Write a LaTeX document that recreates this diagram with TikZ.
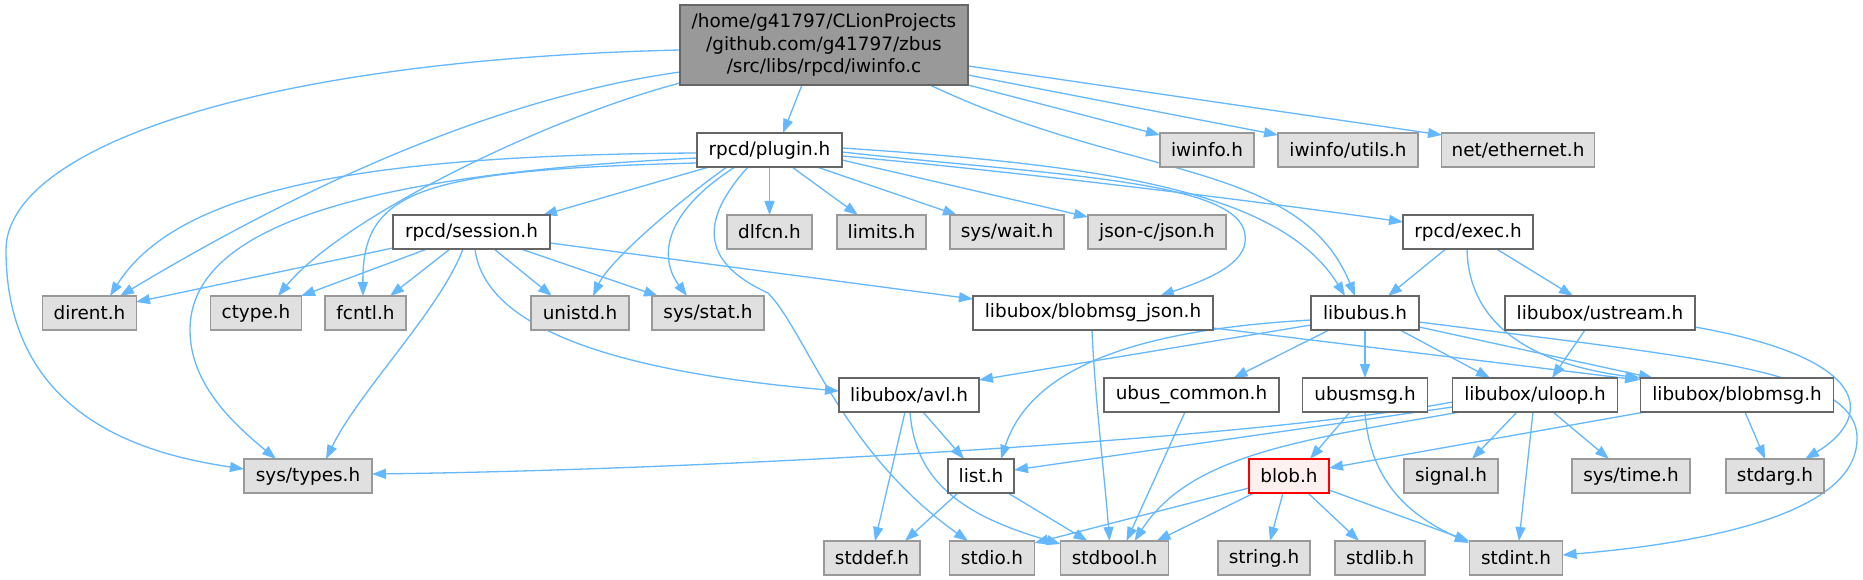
\documentclass[tikz,border=0pt]{standalone}
\usepackage{fontspec}
\setmainfont{DejaVu Sans}
\usetikzlibrary{arrows.meta,calc}
\definecolor{edgec}{HTML}{63B8FF}
\definecolor{gfill}{HTML}{E0E0E0}
\definecolor{gbord}{HTML}{999999}
\definecolor{dbord}{HTML}{666666}
\definecolor{mainfill}{HTML}{999999}
\definecolor{blobfill}{HTML}{FFF0F0}
\pgfdeclarelayer{bg}
\pgfsetlayers{bg,main}
\begin{document}
\begin{tikzpicture}[x=1pt,y=-1pt,
  base/.style={rectangle, minimum height=34pt, inner sep=0pt, line width=1.4pt,
    font=\fontsize{18.4}{22.7}\selectfont, anchor=center},
  sysbox/.style={base, draw=gbord, fill=gfill},
  ubox/.style={base, draw=dbord, fill=white},
  mainbox/.style={base, draw=dbord, fill=mainfill, minimum height=80pt, align=center},
  blobbox/.style={base, draw=red, fill=blobfill},
  edge/.style={draw=edgec, line width=1.3pt, -{Triangle[length=14pt,width=10pt]}}]
\useasboundingbox (0,0) rectangle (1863,580);
% row 0
\node[mainbox, minimum width=288pt] (main) at (824,45) {/home/g41797/CLionProjects\\/github.com/g41797/zbus\\/src/libs/rpcd/iwinfo.c};
% row 1
\node[ubox, minimum width=145pt] (plugin) at (769.5,150) {rpcd/plugin.h};
\node[sysbox, minimum width=94pt] (iwinfo) at (1207,150) {iwinfo.h};
\node[sysbox, minimum width=140pt] (iwutils) at (1348,150) {iwinfo/utils.h};
\node[sysbox, minimum width=153pt] (ether) at (1518,150) {net/ethernet.h};
% row 2
\node[ubox, minimum width=157pt] (session) at (471.5,232) {rpcd/session.h};
\node[sysbox, minimum width=85pt] (dlfcn) at (769.5,232) {dlfcn.h};
\node[sysbox, minimum width=89pt] (limits) at (881.5,232) {limits.h};
\node[sysbox, minimum width=114pt] (syswait) at (1007,232) {sys/wait.h};
\node[sysbox, minimum width=138pt] (json) at (1157,232) {json-c/json.h};
\node[ubox, minimum width=130pt] (exec) at (1468,232) {rpcd/exec.h};
% row 3
\node[sysbox, minimum width=94pt] (dirent) at (89.5,313) {dirent.h};
\node[sysbox, minimum width=91pt] (ctype) at (256,313) {ctype.h};
\node[sysbox, minimum width=81pt] (fcntl) at (365.5,313) {fcntl.h};
\node[sysbox, minimum width=98pt] (unistd) at (580,313) {unistd.h};
\node[sysbox, minimum width=112pt] (sysstat) at (708,313) {sys/stat.h};
\node[ubox, minimum width=240pt] (bjson) at (1093,313) {libubox/blobmsg\_json.h};
\node[ubox, minimum width=108pt] (libubus) at (1365,313) {libubus.h};
\node[ubox, minimum width=190pt] (ustream) at (1600,313) {libubox/ustream.h};
% row 4
\node[ubox, minimum width=140pt] (avl) at (909,395) {libubox/avl.h};
\node[ubox, minimum width=175pt] (ucommon) at (1191.5,395) {ubus\_common.h};
\node[ubox, minimum width=125pt] (ubusmsg) at (1365,395) {ubusmsg.h};
\node[ubox, minimum width=165pt] (uloop) at (1535,395) {libubox/uloop.h};
\node[ubox, minimum width=193pt] (blobmsg) at (1737,395) {libubox/blobmsg.h};
% row 5
\node[sysbox, minimum width=128pt] (systypes) at (308,476) {sys/types.h};
\node[ubox, minimum width=66pt] (list) at (981,476) {list.h};
\node[blobbox, minimum width=80pt] (blob) at (1289,476) {blob.h};
\node[sysbox, minimum width=94pt] (signal) at (1451,476) {signal.h};
\node[sysbox, minimum width=118pt] (systime) at (1631,476) {sys/time.h};
\node[sysbox, minimum width=98pt] (stdarg) at (1775,476) {stdarg.h};
% row 6
\node[sysbox, minimum width=96pt] (stddef) at (872,558) {stddef.h};
\node[sysbox, minimum width=85pt] (stdio) at (992,558) {stdio.h};
\node[sysbox, minimum width=108pt] (stdbool) at (1114.5,558) {stdbool.h};
\node[sysbox, minimum width=92pt] (string) at (1264,558) {string.h};
\node[sysbox, minimum width=90pt] (stdlib) at (1380,558) {stdlib.h};
\node[sysbox, minimum width=93pt] (stdint) at (1516,558) {stdint.h};

\begin{pgfonlayer}{bg}
\fill[white] (0,0) rectangle (1863,580);
% main
\draw[edge] ($(main)+(-144,5)$) .. controls (250,60) and (6,150) .. (6,250) .. controls (6,420) and (150,455) .. ($(systypes)+(-64,-7)$);
\draw[edge] ($(main)+(-144,27)$) .. controls (480,100) and (280,200) .. ($(dirent)+(30.5,-17)$);
\draw[edge] ($(main)+(-144,38)$) .. controls (540,120) and (340,220) .. ($(ctype)+(22,-17)$);
\draw[edge] ($(main)+(-22,40)$) -- ($(plugin)+(13.5,-17)$);
\draw[edge] ($(main)+(106,40)$) .. controls (1130,180) and (1300,160) .. ($(libubus)+(-10,-17)$);
\draw[edge] ($(main)+(144,40)$) -- ($(iwinfo)+(-47,-15)$);
\draw[edge] ($(main)+(144,30)$) -- ($(iwutils)+(-70,-15)$);
\draw[edge] ($(main)+(144,21)$) -- ($(ether)+(-76,-15)$);
% plugin
\draw[edge] ($(plugin)+(-60.5,17)$) -- ($(session)+(71.5,-17)$);
\draw[edge] ($(plugin)+(-72.5,3)$) .. controls (380,155) and (180,185) .. ($(dirent)+(20.5,-17)$);
\draw[edge] ($(plugin)+(-72.5,8)$) .. controls (350,175) and (190,230) .. (190,330) .. controls (190,385) and (235,425) .. ($(systypes)+(-32,-17)$);
\draw[edge] ($(plugin)+(-72.5,13)$) .. controls (420,170) and (362,190) .. ($(fcntl)+(-2.5,-17)$);
\draw[edge] ($(plugin)+(-42.5,17)$) .. controls (680,200) and (610,260) .. ($(unistd)+(13,-17)$);
\draw[edge] ($(plugin)+(-34.5,17)$) .. controls (660,215) and (660,260) .. ($(sysstat)+(-21,-17)$);
\draw[edge] ($(plugin)+(-21.5,17)$) .. controls (700,220) and (700,262) .. (768,293) .. controls (805,330) and (840,450) .. ($(stdio)+(-24,-17)$);
\draw[edge] ($(plugin)+(0,17)$) -- ($(dlfcn)+(0,-17)$);
\draw[edge] ($(plugin)+(22.5,17)$) -- ($(limits)+(-23.5,-17)$);
\draw[edge] ($(plugin)+(47.5,17)$) -- ($(syswait)+(-50,-17)$);
\draw[edge] ($(plugin)+(72.5,10)$) -- ($(json)+(-69,-15)$);
\draw[edge] ($(plugin)+(72.5,6)$) .. controls (1000,170) and (1250,200) .. ($(exec)+(-65,-10)$);
\draw[edge] ($(plugin)+(72.5,2)$) .. controls (1050,175) and (1240,180) .. (1245,235) .. controls (1250,265) and (1200,282) .. ($(bjson)+(67,-17)$);
\draw[edge] ($(plugin)+(72.5,-2)$) .. controls (1100,165) and (1280,190) .. ($(libubus)+(-20,-17)$);
% session
\draw[edge] ($(session)+(-78.5,16)$) -- ($(dirent)+(46.5,-11)$);
\draw[edge] ($(session)+(-44.5,17)$) -- ($(ctype)+(45,-17)$);
\draw[edge] ($(session)+(-21.5,17)$) -- ($(fcntl)+(24.5,-17)$);
\draw[edge] ($(session)+(-8.5,17)$) .. controls (440,310) and (360,390) .. ($(systypes)+(18,-17)$);
\draw[edge] ($(session)+(3.5,17)$) .. controls (485,330) and (620,372) .. ($(avl)+(-70,-4)$);
\draw[edge] ($(session)+(22.5,17)$) -- ($(unistd)+(-28,-17)$);
\draw[edge] ($(session)+(49.5,17)$) -- ($(sysstat)+(-50,-17)$);
\draw[edge] ($(session)+(78.5,11)$) -- ($(bjson)+(-120,-14)$);
% libubus
\draw[edge] ($(libubus)+(-54,12)$) -- ($(avl)+(70,-15)$);
\draw[edge] ($(libubus)+(-54,7)$) .. controls (1130,330) and (1030,370) .. ($(list)+(20,-17)$);
\draw[edge] ($(libubus)+(-36,17)$) -- ($(ucommon)+(42,-17)$);
\draw[edge] ($(libubus)+(0,17)$) -- ($(ubusmsg)+(0,-17)$);
\draw[edge] ($(libubus)+(35,17)$) -- ($(uloop)+(-45,-17)$);
\draw[edge] ($(libubus)+(54,14)$) -- ($(blobmsg)+(-84,-17)$);
\draw[edge] ($(libubus)+(54,9)$) .. controls (1700,358) and (1860,370) .. (1857,440) .. controls (1855,520) and (1680,545) .. ($(stdint)+(46.5,-3)$);
% uloop
\draw[edge] ($(uloop)+(-82.5,7)$) .. controls (1250,440) and (700,470) .. ($(systypes)+(64,-2)$);
\draw[edge] ($(uloop)+(-82.5,12)$) -- ($(list)+(33,-6)$);
\draw[edge] ($(uloop)+(-75,17)$) .. controls (1300,440) and (1190,455) .. ($(stdbool)+(20,-17)$);
\draw[edge] ($(uloop)+(-18,17)$) -- ($(signal)+(21,-17)$);
\draw[edge] ($(uloop)+(-2,17)$) -- ($(stdint)+(3,-17)$);
\draw[edge] ($(uloop)+(18,17)$) -- ($(systime)+(-22,-17)$);
% blobmsg
\draw[edge] ($(blobmsg)+(-92,17)$) -- ($(blob)+(40,-8)$);
\draw[edge] ($(blobmsg)+(8,17)$) -- ($(stdarg)+(-10,-17)$);
% blobmsg_json
\draw[edge] ($(bjson)+(-1,17)$) .. controls (1095,400) and (1105,480) .. ($(stdbool)+(-5,-17)$);
\draw[edge] ($(bjson)+(120,15)$) -- ($(blobmsg)+(-98,-15)$);
% ustream
\draw[edge] ($(ustream)+(-15,17)$) -- ($(uloop)+(17,-17)$);
\draw[edge] ($(ustream)+(95,14)$) .. controls (1880,360) and (1870,420) .. ($(stdarg)+(30,-17)$);
% exec
\draw[edge] ($(exec)+(-21,16)$) -- ($(libubus)+(23,-17)$);
\draw[edge] ($(exec)+(27,16)$) -- ($(ustream)+(-27,-17)$);
\draw[edge] ($(exec)+(-1,16)$) .. controls (1468,330) and (1540,365) .. ($(blobmsg)+(-97,-17)$);
% ubus_common
\draw[edge] ($(ucommon)+(-6.5,17)$) -- ($(stdbool)+(12,-17)$);
% ubusmsg
\draw[edge] ($(ubusmsg)+(-15,17)$) -- ($(blob)+(21,-17)$);
\draw[edge] ($(ubusmsg)+(0,17)$) .. controls (1370,490) and (1420,520) .. ($(stdint)+(-47,-15)$);
% blob
\draw[edge] ($(blob)+(-40,12)$) -- ($(stdio)+(42.5,-15)$);
\draw[edge] ($(blob)+(-35,17)$) -- ($(stdbool)+(42,-17)$);
\draw[edge] ($(blob)+(-6,17)$) -- ($(string)+(6,-17)$);
\draw[edge] ($(blob)+(19,17)$) -- ($(stdlib)+(-21,-17)$);
\draw[edge] ($(blob)+(40,14)$) -- ($(stdint)+(-47,-17)$);
% list
\draw[edge] ($(list)+(-23,17)$) -- ($(stddef)+(33,-17)$);
\draw[edge] ($(list)+(27,17)$) -- ($(stdbool)+(-27,-17)$);
% avl
\draw[edge] ($(avl)+(14,17)$) -- ($(list)+(-17,-17)$);
\draw[edge] ($(avl)+(-4,17)$) -- ($(stddef)+(3,-17)$);
\draw[edge] ($(avl)+(1,17)$) .. controls (915,480) and (960,515) .. ($(stdbool)+(-54,-14)$);
\end{pgfonlayer}
\end{tikzpicture}
\end{document}
